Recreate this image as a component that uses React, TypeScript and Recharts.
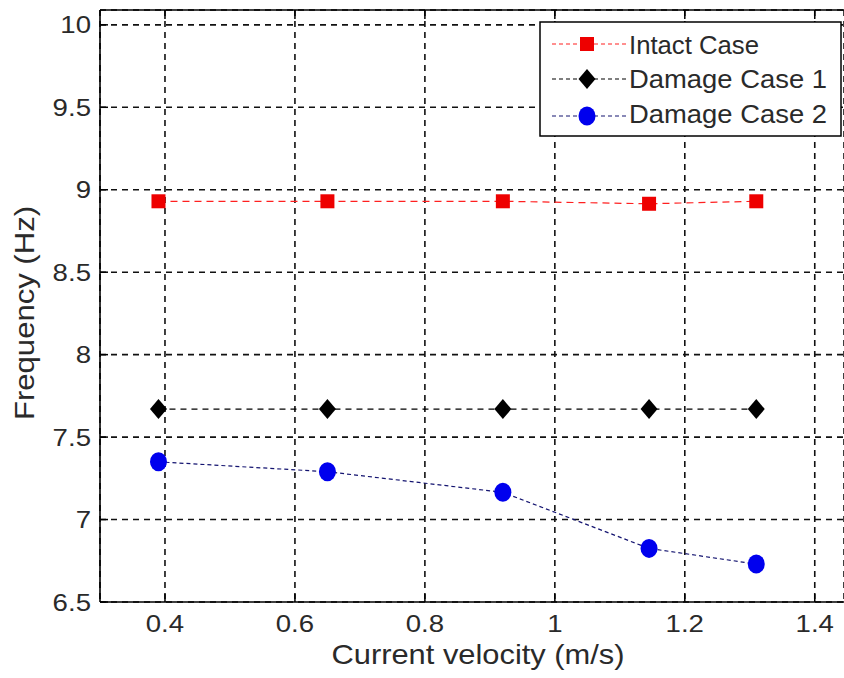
import React from 'react';
import { LineChart, Line, XAxis, YAxis, CartesianGrid, Legend } from 'recharts';

const velocity = [0.39, 0.65, 0.92, 1.145, 1.31];
const intactCase = [8.93, 8.93, 8.93, 8.915, 8.93];
const damageCase1 = [7.67, 7.67, 7.67, 7.67, 7.67];
const damageCase2 = [7.35, 7.29, 7.165, 6.825, 6.73];
const xTicks = [0.4, 0.6, 0.8, 1, 1.2, 1.4];
const yTicks = [6.5, 7, 7.5, 8, 8.5, 9, 9.5, 10];
const seriesNames = ['Intact Case', 'Damage Case 1', 'Damage Case 2'];

const data = velocity.map((v, i) => ({
  x: v,
  intact: intactCase[i],
  dmg1: damageCase1[i],
  dmg2: damageCase2[i],
}));

const FONT = '"Liberation Sans", Arial, sans-serif';
const TEXT = '#2a2a2a';

const charW: Record<string, number> = { '.': 0.278, ' ': 0.278, '(': 0.333, ')': 0.333 };
const textW = (s: string, fs: number, stretch: number) =>
  s.split('').reduce((a, c) => a + (charW[c] ?? 0.556), 0) * fs * stretch;

const Square = ({ cx, cy, size = 14, fill = '#ee0000' }: any) => (
  <rect x={cx - size / 2} y={cy - size / 2} width={size} height={size} fill={fill} />
);
const Diamond = ({ cx, cy, fill = '#000' }: any) => (
  <path d={`M${cx},${cy - 10} L${cx + 8.5},${cy} L${cx},${cy + 10} L${cx - 8.5},${cy} Z`} fill={fill} />
);
const Circle = ({ cx, cy, fill = '#0000ee' }: any) => (
  <ellipse cx={cx} cy={cy} rx={8.5} ry={9.5} fill={fill} />
);

const seriesStyles = [
  { key: 'intact', stroke: '#ff2020', dash: '7 5', Marker: Square },
  { key: 'dmg1', stroke: '#000000', dash: '6 5', Marker: Diamond },
  { key: 'dmg2', stroke: '#141470', dash: '4 3', Marker: Circle },
];

const XTick = (props: any) => {
  const { x, y, payload } = props;
  const s = String(payload.value);
  return (
    <g>
      <line x1={x} y1={y} x2={x} y2={y - 8} stroke="#000" strokeWidth={1.5} />
      <text x={x} y={y + 30} textAnchor="middle" fontSize={24} fontFamily={FONT} fill={TEXT}
        textLength={textW(s, 24, 1.15)} lengthAdjust="spacingAndGlyphs">{s}</text>
    </g>
  );
};

const TopTick = (props: any) => {
  const { x, y } = props;
  return <line x1={x} y1={y} x2={x} y2={y + 9} stroke="#000" strokeWidth={1.5} />;
};

const YTick = (props: any) => {
  const { x, y, payload } = props;
  const s = String(payload.value);
  return (
    <g>
      <line x1={x} y1={y} x2={x + 8} y2={y} stroke="#000" strokeWidth={1.5} />
      <text x={x - 9} y={y + 8.5} textAnchor="end" fontSize={24} fontFamily={FONT} fill={TEXT}
        textLength={textW(s, 24, 1.15)} lengthAdjust="spacingAndGlyphs">{s}</text>
    </g>
  );
};

const LegendBox = () => (
  <svg width={304} height={117} style={{ display: 'block' }}>
    <rect x={1} y={1} width={301} height={114} fill="#fff" stroke="#000" strokeWidth={1.5} />
    {seriesNames.map((name, i) => {
      const st = seriesStyles[i];
      const my = [23, 58, 95][i];
      const by = [33, 67, 102][i];
      const M = st.Marker;
      return (
        <g key={name}>
          <line x1={13} y1={my} x2={87} y2={my} stroke={st.stroke} strokeWidth={1.2} strokeDasharray="4 3" />
          <M cx={48} cy={my} />
          <text x={90} y={by} fontSize={25} fontFamily={FONT} fill={TEXT}
            textLength={i === 0 ? 130 : 198} lengthAdjust="spacingAndGlyphs">{name}</text>
        </g>
      );
    })}
  </svg>
);

const renderDot = (Marker: any) => (props: any) => {
  const { cx, cy, index } = props;
  return <Marker key={`m-${index}`} cx={cx} cy={cy} />;
};

export default function App() {
  return (
    <div style={{ position: 'absolute', left: 0, top: 0, background: '#fff' }}>
      <LineChart width={844} height={678} data={data} margin={{ top: 0, right: 0, bottom: 0, left: 0 }}>
        <CartesianGrid stroke="#111" strokeWidth={1.6} strokeDasharray="6 5" />
        <XAxis
          xAxisId={0}
          type="number"
          dataKey="x"
          domain={[0.3, 1.445]}
          ticks={xTicks}
          allowDataOverflow
          height={76}
          tickSize={0}
          tickMargin={0}
          tickLine={false}
          axisLine={{ stroke: '#000', strokeWidth: 1.6 }}
          tick={<XTick />}
          interval={0}
          label={{ value: 'Current velocity (m/s)', position: 'insideBottom', content: () => (
            <text x={478} y={664} textAnchor="middle" fontSize={28} fontFamily={FONT} fill={TEXT}
              textLength={293} lengthAdjust="spacingAndGlyphs">Current velocity (m/s)</text>
          ) }}
        />
        <XAxis
          xAxisId="top"
          orientation="top"
          type="number"
          dataKey="x"
          domain={[0.3, 1.445]}
          ticks={xTicks}
          allowDataOverflow
          height={10}
          tickSize={0}
          tickMargin={0}
          tickLine={false}
          axisLine={{ stroke: '#000', strokeWidth: 1.6 }}
          tick={<TopTick />}
          interval={0}
        />
        <YAxis
          type="number"
          domain={[6.5, 10.09]}
          ticks={yTicks}
          allowDataOverflow
          width={100}
          tickSize={0}
          tickMargin={0}
          tickLine={false}
          axisLine={{ stroke: '#000', strokeWidth: 1.6 }}
          tick={<YTick />}
          interval={0}
          label={{ value: 'Frequency (Hz)', position: 'insideLeft', content: () => (
            <text x={34} y={313} transform="rotate(-90 34 313)" textAnchor="middle" fontSize={28} fontFamily={FONT} fill={TEXT}
              textLength={214} lengthAdjust="spacingAndGlyphs">Frequency (Hz)</text>
          ) }}
        />
        <Legend
          layout="horizontal"
          verticalAlign="middle"
          align="center"
          content={() => <LegendBox />}
          wrapperStyle={{ position: 'absolute', left: 539, top: 21, width: 304, height: 117 }}
        />
        {seriesStyles.map((st, i) => (
          <Line
            key={st.key}
            dataKey={st.key}
            name={seriesNames[i]}
            stroke={st.stroke}
            strokeWidth={1.2}
            strokeDasharray={st.dash}
            dot={renderDot(st.Marker)}
            activeDot={false}
            isAnimationActive={false}
          />
        ))}
      </LineChart>
    </div>
  );
}
